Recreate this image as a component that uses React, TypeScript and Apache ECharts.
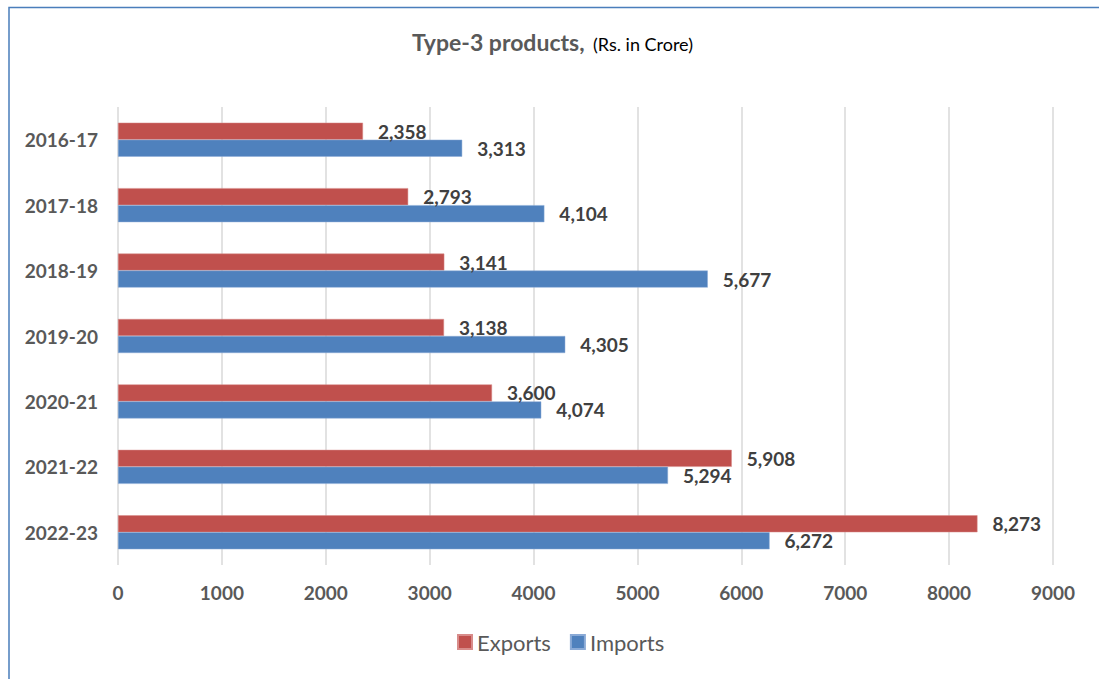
import React, { useEffect, useRef } from "react";
import * as echarts from "echarts";

const categories = ["2016-17", "2017-18", "2018-19", "2019-20", "2020-21", "2021-22", "2022-23"];
const exportsData = [2358, 2793, 3141, 3138, 3600, 5908, 8273];
const importsData = [3313, 4104, 5677, 4305, 4074, 5294, 6272];
const xTicks = [0, 1000, 2000, 3000, 4000, 5000, 6000, 7000, 8000, 9000];

const FONT = "Lato, 'Open Sans', sans-serif";
const TXT = "#595959";

export default function App() {
  const ref = useRef<HTMLDivElement>(null);
  useEffect(() => {
    if (!ref.current) return;
    const chart = echarts.init(ref.current, null, { renderer: "svg" });
    const fmt = (p: any) => Number(p.value).toLocaleString("en-US");
    const labelStyle = {
      show: true,
      position: "right",
      distance: 15,
      formatter: fmt,
      fontFamily: FONT,
      fontWeight: "bold",
      fontSize: 19,
      color: "#404040",
    };
    chart.setOption({
      animation: false,
      backgroundColor: "#ffffff",
      textStyle: { fontFamily: FONT },
      title: [
        {
          text: "Type-3 products,",
          left: 407,
          top: 25,
          textStyle: { fontFamily: FONT, fontWeight: "bold", fontSize: 23, color: TXT },
        },
        {
          text: "(Rs. in Crore)",
          left: 588,
          top: 30,
          textStyle: { fontFamily: FONT, fontWeight: "normal", fontSize: 18, color: "#000000" },
        },
      ],
      legend: {
        bottom: 21,
        left: 452,
        itemWidth: 14,
        itemHeight: 14,
        itemGap: 19,
        icon: "rect",
        textStyle: { fontFamily: FONT, fontSize: 22, color: TXT },
        data: ["Exports", "Imports"],
      },
      grid: { left: 118, right: 46, top: 107, bottom: 114, containLabel: false },
      xAxis: {
        type: "value",
        min: xTicks[0],
        max: xTicks[xTicks.length - 1],
        interval: 1000,
        axisLine: { show: false },
        axisTick: { show: false },
        splitLine: { show: true, lineStyle: { color: "#D9D9D9", width: 1.5 } },
        axisLabel: {
          margin: 18,
          fontFamily: FONT,
          fontWeight: "bold",
          fontSize: 19,
          color: TXT,
          formatter: (v: number) => String(v),
        },
      },
      yAxis: {
        type: "category",
        data: categories,
        inverse: true,
        axisLine: { show: false },
        axisTick: { show: false },
        axisLabel: { margin: 20, fontFamily: FONT, fontWeight: "bold", fontSize: 19, color: TXT },
      },
      graphic: [
        {
          type: "rect",
          shape: { x: 9, y: 7.5, width: 1200, height: 800 },
          style: { fill: "none", stroke: "#4A7EBB", lineWidth: 1.5 },
          silent: true,
        },
      ],
      series: [
        {
          name: "Exports",
          type: "bar",
          data: exportsData,
          barGap: "0%",
          barCategoryGap: "48%",
          itemStyle: { color: "#C0504D", borderColor: "#D88C8A", borderWidth: 0.5 },
          label: labelStyle,
        },
        {
          name: "Imports",
          type: "bar",
          data: importsData,
          barGap: "0%",
          barCategoryGap: "48%",
          itemStyle: { color: "#4F81BD", borderColor: "#8AAAD6", borderWidth: 0.5 },
          label: labelStyle,
        },
      ],
    });
    return () => chart.dispose();
  }, []);
  return (
    <div
      ref={ref}
      style={{ position: "fixed", left: 0, top: 0, width: 1099, height: 679 }}
    />
  );
}
